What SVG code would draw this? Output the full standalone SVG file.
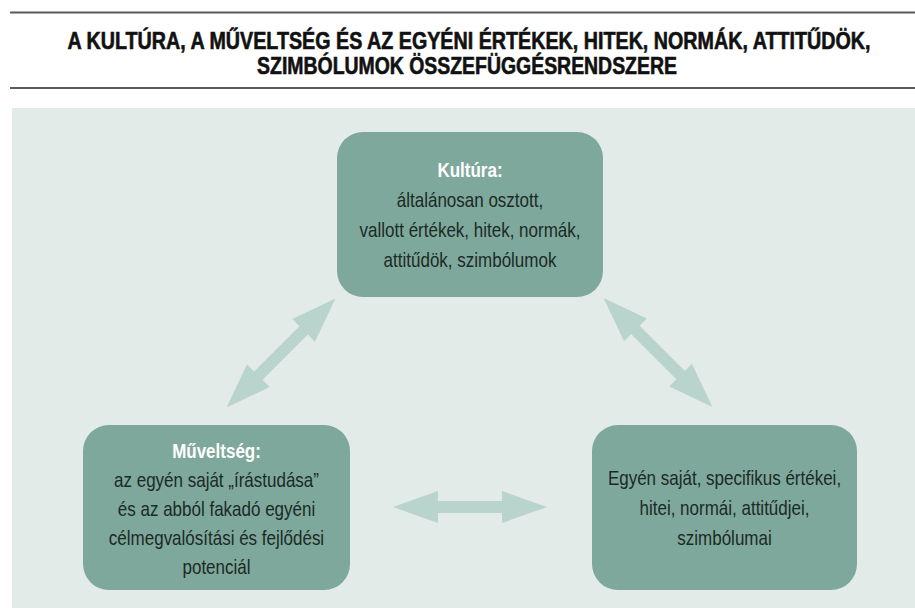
<svg xmlns="http://www.w3.org/2000/svg" xmlns:xlink="http://www.w3.org/1999/xlink" width="915" height="608" viewBox="0 0 915 608">
  <defs>
    <style>
      .rule { stroke: #5a5a5a; stroke-width: 2; fill: none; }
      .title { font-family: "Liberation Sans", Arial, sans-serif; font-weight: bold; font-size: 23px; fill: #111; stroke: #111; stroke-width: 0.6; text-anchor: middle; }
      .box { fill: #7ea89b; }
      .head { font-family: "Liberation Sans", Arial, sans-serif; font-weight: bold; font-size: 20px; fill: #ffffff; text-anchor: middle; }
      .body { font-family: "Liberation Sans", Arial, sans-serif; font-size: 20px; fill: #1b2a26; text-anchor: middle; }
      .arrow { fill: #b9d4cd; }
    </style>
    <path id="dbl" d="M -77 0 L -32 -16 L -32 -6 L 32 -6 L 32 -16 L 77 0 L 32 16 L 32 6 L -32 6 L -32 16 Z"/>
  </defs>

  <rect x="0" y="0" width="915" height="608" fill="#ffffff"/>

  <g id="title">
    <line class="rule" x1="10" y1="12.5" x2="915" y2="12.5"/>
    <text class="title" transform="translate(469 48.5) scale(0.857 1)">A KULTÚRA, A MŰVELTSÉG ÉS AZ EGYÉNI ÉRTÉKEK, HITEK, NORMÁK, ATTITŰDÖK,</text>
    <text class="title" transform="translate(467 73.5) scale(0.845 1)">SZIMBÓLUMOK ÖSSZEFÜGGÉSRENDSZERE</text>
    <line class="rule" x1="10" y1="88" x2="915" y2="88"/>
  </g>

  <rect id="panel" x="12" y="108" width="903" height="500" fill="#e3ebe9"/>

  <g id="connectors">
    <use xlink:href="#dbl" href="#dbl" class="arrow" transform="translate(281 353) rotate(-45)"/>
    <use xlink:href="#dbl" href="#dbl" class="arrow" transform="translate(658 352.5) rotate(45)"/>
    <use xlink:href="#dbl" href="#dbl" class="arrow" transform="translate(470 507)"/>
  </g>

  <g id="kultura">
    <rect class="box" x="337" y="132" width="266" height="165" rx="26" ry="26"/>
    <text class="head" transform="translate(470 177) scale(0.85 1)">Kultúra:</text>
    <text class="body" transform="translate(470 207) scale(0.85 1)">általánosan osztott,</text>
    <text class="body" transform="translate(470 237) scale(0.85 1)">vallott értékek, hitek, normák,</text>
    <text class="body" transform="translate(470 267) scale(0.85 1)">attitűdök, szimbólumok</text>
  </g>

  <g id="muveltseg">
    <rect class="box" x="83" y="425" width="267" height="165" rx="26" ry="26"/>
    <text class="head" transform="translate(216.5 458) scale(0.85 1)">Műveltség:</text>
    <text class="body" transform="translate(216.5 487) scale(0.85 1)">az egyén saját „írástudása”</text>
    <text class="body" transform="translate(216.5 516) scale(0.85 1)">és az abból fakadó egyéni</text>
    <text class="body" transform="translate(216.5 545) scale(0.85 1)">célmegvalósítási és fejlődési</text>
    <text class="body" transform="translate(216.5 574) scale(0.85 1)">potenciál</text>
  </g>

  <g id="egyen">
    <rect class="box" x="592" y="425" width="265" height="165" rx="26" ry="26"/>
    <text class="body" transform="translate(724.5 485) scale(0.85 1)">Egyén saját, specifikus értékei,</text>
    <text class="body" transform="translate(724.5 515) scale(0.85 1)">hitei, normái, attitűdjei,</text>
    <text class="body" transform="translate(724.5 545) scale(0.85 1)">szimbólumai</text>
  </g>
</svg>
